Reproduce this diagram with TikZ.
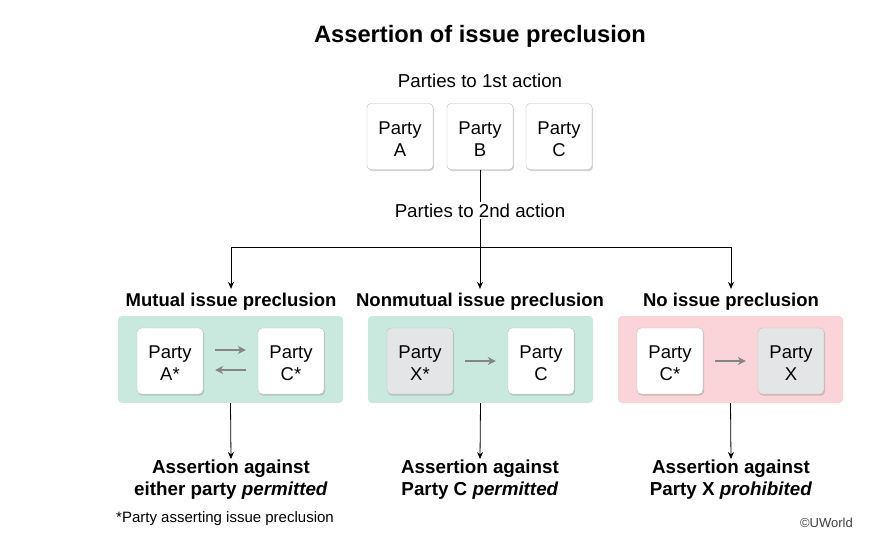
\documentclass[tikz,border=0pt]{standalone}
\usepackage{fontspec}
\setmainfont{Liberation Sans}
\usetikzlibrary{shadows,arrows.meta}
\definecolor{pgreen}{HTML}{C9E9DE}
\definecolor{ppink}{HTML}{FAD4D8}
\definecolor{pgrey}{HTML}{E3E5E6}
\definecolor{agrey}{HTML}{858585}
\tikzset{
  partybox/.style={draw=black!25, line width=0.4pt, fill=white, rounded corners=4pt, minimum width=66pt, minimum height=66pt, inner sep=0pt, drop shadow={shadow xshift=1pt, shadow yshift=-1.5pt, opacity=0.35},
    label={[font=\fontsize{18.5}{22}\selectfont, align=center, yshift=-2.5pt]center:#1}},
  greybox/.style={partybox=#1, fill=pgrey},
  panel/.style={rounded corners=4pt, minimum width=225pt, minimum height=87pt, inner sep=0pt},
  conn/.style={line width=0.8pt, -{Stealth[length=7pt,width=6pt]}},
  garrow/.style={line width=2pt, agrey, -{Stealth[length=8pt,width=8pt]}},
  header/.style={font=\fontsize{18.5}{22}\selectfont\bfseries},
  result/.style={font=\fontsize{18.8}{22}\selectfont\bfseries, align=center},
}
\begin{document}
\begin{tikzpicture}[x=1pt,y=-1pt]
\useasboundingbox[fill=white] (0,0) rectangle (887,538);
\node[font=\fontsize{23.7}{28}\selectfont\bfseries] (title) at (480,36) {Assertion of issue preclusion};
\node[font=\fontsize{18.7}{22}\selectfont] (first) at (480,80.5) {Parties to 1st action};
\node[partybox={Party\\A}] (pA) at (400,136.5) {};
\node[partybox={Party\\B}] (pB) at (480,136.5) {};
\node[partybox={Party\\C}] (pC) at (559,136.5) {};
\node[font=\fontsize{18.7}{22}\selectfont, inner sep=1pt] (second) at (480,210.5) {Parties to 2nd action};
\draw[line width=0.8pt] (pB.south) -- (second.north);
\coordinate (junc) at (480,247);
\coordinate (jl) at (231,247);
\coordinate (jr) at (731,247);
\node[header] (h1) at (231,302) {Mutual issue preclusion};
\node[header] (h2) at (480,302) {Nonmutual issue preclusion};
\node[header] (h3) at (731,302) {No issue preclusion};
\draw[conn] (second.south) -- ([yshift=1pt]h2.north);
\draw[line width=0.8pt] (jl) -- (jr);
\draw[conn] (jl) -- ([yshift=1pt]h1.north);
\draw[conn] (jr) -- ([yshift=1pt]h3.north);
% panels
\node[panel, fill=pgreen] (P1) at (230.5,359.5) {};
\node[panel, fill=pgreen] (P2) at (480.5,359.5) {};
\node[panel, fill=ppink] (P3) at (730.5,359.5) {};
\node[partybox={Party\\A*}] (a1) at (170,361) {};
\node[partybox={Party\\C*}] (c1) at (291,361) {};
\node[greybox={Party\\X*}] (x2) at (420,361) {};
\node[partybox={Party\\C}] (c2) at (541,361) {};
\node[partybox={Party\\C*}] (c3) at (670,361) {};
\node[greybox={Party\\X}] (x3) at (791,361) {};
\draw[garrow] ([xshift=12pt,yshift=11pt]a1.east) -- ([xshift=-12pt,yshift=11pt]c1.west);
\draw[garrow] ([xshift=-12pt,yshift=-9pt]c1.west) -- ([xshift=12pt,yshift=-9pt]a1.east);
\draw[garrow] ([xshift=12pt]x2.east) -- ([xshift=-12pt]c2.west);
\draw[garrow] ([xshift=12pt]c3.east) -- ([xshift=-12pt]x3.west);
% results
\node[result, inner sep=1pt] (r1) at (231,480) {Assertion against\\either party \textit{permitted}};
\node[result, inner sep=1pt] (r2) at (480,480) {Assertion against\\Party C \textit{permitted}};
\node[result, inner sep=1pt] (r3) at (731,480) {Assertion against\\Party X \textit{prohibited}};
\draw[conn] (P1.south) -- (r1.north);
\draw[conn] (P2.south) -- (r2.north);
\draw[conn] (P3.south) -- (r3.north);
\node[anchor=west, font=\fontsize{15}{18}\selectfont, inner sep=0pt] (note) at (116,518.5) {*Party asserting issue preclusion};
\node[anchor=east, font=\fontsize{13}{15}\selectfont, inner sep=0pt, text=black!75] (copy) at (853,523) {©UWorld};
\end{tikzpicture}
\end{document}
